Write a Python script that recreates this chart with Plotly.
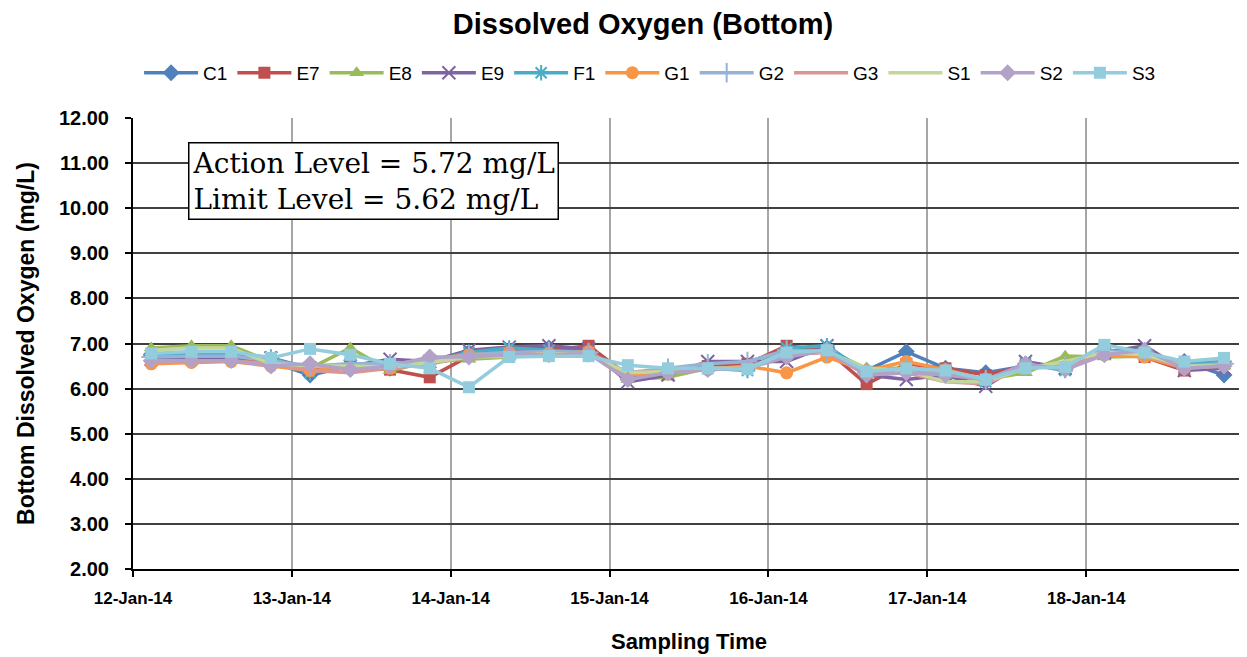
import plotly.graph_objects as go

times = [
    "2014-01-12 02:45", "2014-01-12 08:50", "2014-01-12 14:50", "2014-01-12 20:50",
    "2014-01-13 02:45", "2014-01-13 08:50", "2014-01-13 14:50", "2014-01-13 20:50",
    "2014-01-14 02:45", "2014-01-14 08:50", "2014-01-14 14:50", "2014-01-14 20:50",
    "2014-01-15 02:45", "2014-01-15 08:50", "2014-01-15 14:50", "2014-01-15 20:50",
    "2014-01-16 02:45", "2014-01-16 08:50", "2014-01-16 14:50", "2014-01-16 20:50",
    "2014-01-17 02:45", "2014-01-17 08:50", "2014-01-17 14:50", "2014-01-17 20:50",
    "2014-01-18 02:45", "2014-01-18 08:50", "2014-01-18 14:50", "2014-01-18 20:50",
]

C1 = [6.75, 6.75, 6.78, 6.60, 6.30, 6.50, 6.45, 6.60, 6.80, 6.85, 6.90, 6.85, 6.25, 6.40,
      6.45, 6.45, 6.85, 6.90, 6.40, 6.82, 6.45, 6.35, 6.50, 6.45, 6.85, 6.75, 6.60, 6.30]
E7 = [6.62, 6.65, 6.68, 6.58, 6.45, 6.50, 6.42, 6.25, 6.72, 6.80, 6.85, 6.95, 6.30, 6.35,
      6.50, 6.55, 6.95, 6.85, 6.10, 6.55, 6.45, 6.30, 6.50, 6.45, 6.85, 6.70, 6.40, 6.55]
E8 = [6.90, 6.95, 6.95, 6.60, 6.45, 6.90, 6.40, 6.60, 6.65, 6.70, 6.75, 6.80, 6.20, 6.25,
      6.45, 6.45, 6.80, 6.85, 6.45, 6.45, 6.25, 6.20, 6.35, 6.72, 6.70, 6.72, 6.50, 6.50]
E9 = [6.65, 6.68, 6.70, 6.68, 6.45, 6.50, 6.65, 6.60, 6.85, 6.92, 6.95, 6.88, 6.15, 6.30,
      6.60, 6.60, 6.60, 6.95, 6.30, 6.20, 6.30, 6.05, 6.60, 6.45, 6.80, 6.95, 6.40, 6.45]
F1 = [6.75, 6.75, 6.75, 6.70, 6.35, 6.55, 6.50, 6.60, 6.80, 6.90, 6.85, 6.80, 6.30, 6.40,
      6.45, 6.40, 6.90, 6.95, 6.35, 6.45, 6.40, 6.15, 6.55, 6.40, 6.85, 6.80, 6.55, 6.60]
G1 = [6.55, 6.58, 6.60, 6.50, 6.40, 6.45, 6.45, 6.65, 6.75, 6.80, 6.78, 6.82, 6.30, 6.35,
      6.42, 6.50, 6.35, 6.70, 6.40, 6.60, 6.42, 6.20, 6.50, 6.50, 6.75, 6.70, 6.45, 6.55]
G2 = [6.70, 6.72, 6.72, 6.62, 6.50, 6.55, 6.55, 6.62, 6.75, 6.80, 6.82, 6.80, 6.35, 6.45,
      6.55, 6.60, 6.85, 6.82, 6.35, 6.45, 6.35, 6.20, 6.50, 6.50, 6.82, 6.80, 6.50, 6.55]
G3 = [6.60, 6.62, 6.62, 6.55, 6.40, 6.35, 6.45, 6.55, 6.70, 6.75, 6.78, 6.78, 6.35, 6.40,
      6.45, 6.45, 6.75, 6.80, 6.30, 6.35, 6.15, 6.10, 6.50, 6.50, 6.80, 6.75, 6.45, 6.50]
S1 = [6.85, 6.90, 6.90, 6.55, 6.50, 6.50, 6.48, 6.58, 6.70, 6.72, 6.78, 6.75, 6.35, 6.38,
      6.45, 6.45, 6.80, 6.82, 6.45, 6.40, 6.15, 6.15, 6.45, 6.60, 6.80, 6.75, 6.50, 6.50]
S2 = [6.62, 6.62, 6.62, 6.50, 6.55, 6.42, 6.50, 6.70, 6.70, 6.75, 6.75, 6.78, 6.20, 6.35,
      6.42, 6.45, 6.70, 6.85, 6.30, 6.35, 6.30, 6.20, 6.55, 6.42, 6.75, 6.85, 6.45, 6.50]
S3 = [6.78, 6.82, 6.82, 6.68, 6.88, 6.75, 6.55, 6.45, 6.03, 6.70, 6.72, 6.72, 6.52, 6.45,
      6.45, 6.43, 6.80, 6.85, 6.38, 6.45, 6.40, 6.20, 6.45, 6.48, 6.97, 6.80, 6.60, 6.68]

series_names = ["C1", "E7", "E8", "E9", "F1", "G1", "G2", "G3", "S1", "S2", "S3"]
series_values = [C1, E7, E8, E9, F1, G1, G2, G3, S1, S2, S3]
colors = ["#4F81BD", "#C0504D", "#9BBB59", "#8064A2", "#4BACC6", "#F79646",
          "#95B3D7", "#D99694", "#C3D69B", "#B2A2C7", "#93CDDD"]
symbols = ["diamond", "square", "triangle-up", "x-thin-open", "asterisk-open", "circle",
           "cross-thin-open", None, None, "diamond", "square"]
sizes = [13, 12, 13, 13, 13, 13, 14, 0, 0, 13, 12]

x_ticks = ["2014-01-12", "2014-01-13", "2014-01-14", "2014-01-15",
           "2014-01-16", "2014-01-17", "2014-01-18"]
x_tick_labels = ["12-Jan-14", "13-Jan-14", "14-Jan-14", "15-Jan-14",
                 "16-Jan-14", "17-Jan-14", "18-Jan-14"]
y_ticks = [2, 3, 4, 5, 6, 7, 8, 9, 10, 11, 12]
y_tick_labels = ["2.00", "3.00", "4.00", "5.00", "6.00", "7.00", "8.00",
                 "9.00", "10.00", "11.00", "12.00"]

fig = go.Figure()
for name, vals, col, sym, sz in zip(series_names, series_values, colors, symbols, sizes):
    if sym is None:
        fig.add_trace(go.Scatter(x=times, y=vals, name=name, mode="lines",
                                 line=dict(color=col, width=3.5)))
    else:
        mk = dict(symbol=sym, size=sz, color=col)
        if sym.endswith("-open"):
            mk["line"] = dict(color=col, width=2)
        fig.add_trace(go.Scatter(x=times, y=vals, name=name, mode="lines+markers",
                                 line=dict(color=col, width=3.5), marker=mk))

font_main = "Liberation Sans, Arial, sans-serif"

fig.update_layout(
    width=1239, height=649,
    margin=dict(l=125, r=2, t=110, b=88, autoexpand=False),
    paper_bgcolor="white", plot_bgcolor="white",
    title=dict(text="<b>Dissolved Oxygen (Bottom)</b>", x=0.5125, xanchor="center",
               y=0.975, yanchor="middle",
               font=dict(family=font_main, size=29, color="black")),
    legend=dict(orientation="h", x=0.465, xanchor="center", y=1.1, yanchor="middle",
                font=dict(family=font_main, size=19, color="black"),
                itemwidth=54, tracegroupgap=0, bgcolor="rgba(0,0,0,0)"),
    showlegend=True,
    font=dict(family=font_main, color="black"),
)

fig.update_xaxes(
    type="date", range=["2014-01-12", "2014-01-19"],
    tickvals=x_ticks, ticktext=["<b>%s</b>" % t for t in x_tick_labels],
    tickfont=dict(family=font_main, size=17, color="black"),
    ticklabelstandoff=7,
    showgrid=True, gridcolor="#A6A6A6", gridwidth=2,
    showline=True, linecolor="black", linewidth=2,
    ticks="outside", ticklen=6, tickcolor="black", tickwidth=2,
    title=dict(text="<b>Sampling Time</b>", font=dict(family=font_main, size=22, color="black"),
               standoff=26),
    zeroline=False, automargin=False,
)
fig.update_yaxes(
    range=[2, 12], tickvals=y_ticks, ticktext=["<b>%s</b>" % t for t in y_tick_labels],
    tickfont=dict(family=font_main, size=20, color="black"),
    ticklabelstandoff=12,
    showgrid=True, gridcolor="#404040", gridwidth=2,
    showline=True, linecolor="black", linewidth=2,
    ticks="outside", ticklen=6, tickcolor="black", tickwidth=2,
    title=dict(text="<b>Bottom Dissolved Oxygen (mg/L)</b>",
               font=dict(family=font_main, size=23, color="black"), standoff=18),
    zeroline=False, automargin=False,
)

fig.add_annotation(
    xref="paper", yref="paper", x=0.0495, y=0.9468, xanchor="left", yanchor="top",
    text="Action Level = 5.72 mg/L<br>Limit Level = 5.62 mg/L",
    showarrow=False, align="left",
    font=dict(family="DejaVu Serif, serif", size=28, color="black"),
    bordercolor="black", borderwidth=1.5, borderpad=3, bgcolor="white",
)

fig.write_html("out.html")
